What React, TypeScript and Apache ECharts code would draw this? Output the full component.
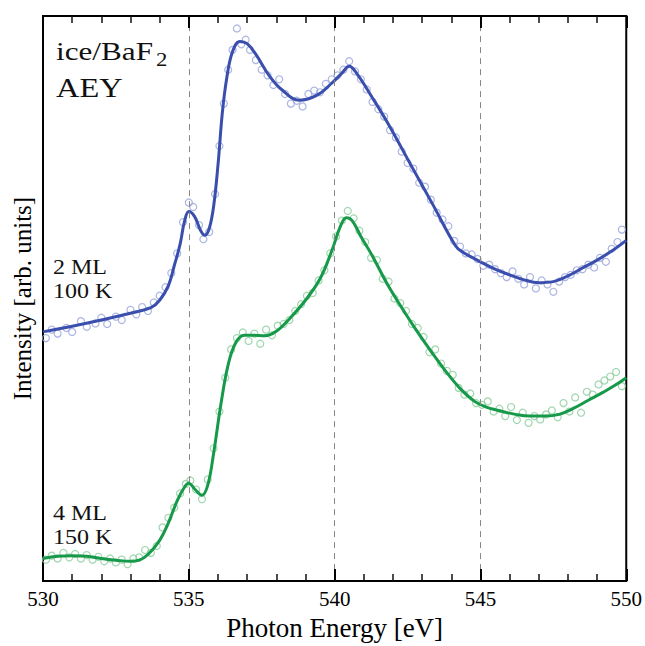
import React, { useEffect, useRef } from "react";
import * as echarts from "echarts";

// Photon energy [eV] / intensity [arb. units]
const fit2ML_E = [530.0, 531.0, 532.0, 533.0, 533.7, 534.0, 534.3, 534.5, 534.7, 534.85, 535.0, 535.2, 535.4, 535.55, 535.7, 535.85, 536.0, 536.15, 536.3, 536.5, 536.75, 537.0, 537.3, 537.75, 538.2, 538.8, 539.4, 539.9, 540.25, 540.5, 540.75, 541.3, 541.85, 542.65, 543.35, 544.15, 544.4, 545.0, 545.5, 546.0, 546.5, 547.0, 547.5, 548.0, 548.5, 549.0, 549.5, 550.0];
const fit2ML_I = [4.41, 4.51, 4.62, 4.74, 4.84, 4.97, 5.23, 5.58, 5.96, 6.36, 6.54, 6.45, 6.21, 6.12, 6.24, 6.63, 7.36, 8.29, 8.90, 9.37, 9.55, 9.51, 9.32, 8.95, 8.69, 8.51, 8.60, 8.81, 8.99, 9.11, 8.99, 8.55, 8.08, 7.33, 6.68, 5.93, 5.82, 5.65, 5.52, 5.42, 5.33, 5.28, 5.30, 5.40, 5.54, 5.68, 5.84, 6.03];

const fit4ML_E = [530.0, 530.5, 531.0, 531.5, 532.0, 532.5, 533.0, 533.3, 533.6, 534.0, 534.3, 534.6, 534.85, 535.0, 535.2, 535.45, 535.65, 535.85, 536.1, 536.35, 536.6, 536.9, 537.2, 537.6, 538.0, 538.5, 539.0, 539.5, 539.9, 540.2, 540.4, 540.6, 540.9, 541.3, 541.8, 542.3, 542.8, 543.3, 543.8, 544.3, 544.8, 545.2, 545.7, 546.2, 546.7, 547.2, 547.7, 548.2, 548.7, 549.2, 549.6, 550.0];
const fit4ML_I = [0.40, 0.44, 0.45, 0.44, 0.40, 0.37, 0.35, 0.37, 0.47, 0.72, 1.03, 1.42, 1.66, 1.73, 1.63, 1.52, 1.70, 2.26, 3.13, 3.83, 4.21, 4.35, 4.35, 4.34, 4.42, 4.67, 4.97, 5.35, 5.84, 6.28, 6.43, 6.38, 6.10, 5.75, 5.26, 4.84, 4.44, 4.07, 3.72, 3.41, 3.18, 3.08, 3.01, 2.95, 2.92, 2.92, 2.95, 3.06, 3.20, 3.34, 3.46, 3.60];

const data2ML_E = [530.1, 530.3, 530.5, 530.8, 531.0, 531.3, 531.5, 531.8, 532.0, 532.2, 532.5, 532.7, 533.0, 533.2, 533.4, 533.6, 533.8, 534.0, 534.2, 534.4, 534.6, 534.8, 535.0, 535.15, 535.35, 535.5, 535.7, 535.9, 536.05, 536.2, 536.35, 536.5, 536.65, 536.8, 536.95, 537.1, 537.3, 537.5, 537.7, 537.9, 538.1, 538.3, 538.5, 538.7, 538.9, 539.1, 539.3, 539.5, 539.7, 539.9, 540.1, 540.3, 540.5, 540.7, 540.9, 541.1, 541.3, 541.5, 541.7, 541.9, 542.1, 542.3, 542.5, 542.7, 542.9, 543.1, 543.3, 543.5, 543.7, 543.9, 544.1, 544.3, 544.5, 544.7, 544.9, 545.1, 545.3, 545.5, 545.7, 545.9, 546.1, 546.3, 546.5, 546.7, 546.9, 547.1, 547.3, 547.5, 547.7, 547.9, 548.1, 548.3, 548.5, 548.7, 548.9, 549.1, 549.3, 549.5, 549.7, 549.85];
const data2ML_I = [4.30, 4.45, 4.38, 4.48, 4.41, 4.60, 4.50, 4.56, 4.66, 4.55, 4.68, 4.62, 4.80, 4.72, 4.85, 4.78, 4.93, 5.05, 5.20, 5.45, 5.80, 6.35, 6.70, 6.62, 6.30, 6.05, 6.18, 6.85, 7.70, 8.45, 9.05, 9.40, 9.78, 9.50, 9.58, 9.40, 9.22, 9.05, 8.95, 8.78, 8.88, 8.62, 8.45, 8.50, 8.40, 8.62, 8.68, 8.65, 8.80, 8.88, 8.95, 9.05, 9.20, 9.02, 8.88, 8.70, 8.48, 8.35, 8.22, 7.98, 7.85, 7.60, 7.40, 7.30, 7.05, 6.98, 6.75, 6.52, 6.40, 6.28, 6.02, 5.92, 5.80, 5.78, 5.70, 5.58, 5.60, 5.52, 5.45, 5.38, 5.48, 5.35, 5.25, 5.38, 5.18, 5.32, 5.25, 5.12, 5.30, 5.38, 5.42, 5.50, 5.52, 5.60, 5.55, 5.72, 5.65, 5.88, 6.00, 6.22];

const data4ML_E = [530.1, 530.3, 530.5, 530.7, 530.9, 531.1, 531.3, 531.5, 531.7, 531.9, 532.1, 532.3, 532.5, 532.7, 532.9, 533.1, 533.3, 533.5, 533.7, 533.9, 534.1, 534.3, 534.5, 534.7, 534.9, 535.05, 535.25, 535.45, 535.65, 535.85, 536.05, 536.25, 536.45, 536.65, 536.85, 537.05, 537.25, 537.45, 537.65, 537.85, 538.05, 538.25, 538.45, 538.65, 538.85, 539.05, 539.25, 539.45, 539.65, 539.85, 540.05, 540.25, 540.45, 540.65, 540.85, 541.05, 541.25, 541.45, 541.65, 541.85, 542.05, 542.25, 542.45, 542.65, 542.85, 543.05, 543.25, 543.45, 543.65, 543.85, 544.05, 544.25, 544.45, 544.65, 544.85, 545.05, 545.25, 545.45, 545.65, 545.85, 546.05, 546.25, 546.45, 546.65, 546.85, 547.05, 547.25, 547.45, 547.65, 547.85, 548.05, 548.25, 548.45, 548.65, 548.85, 549.05, 549.25, 549.45, 549.65, 549.85];
const data4ML_I = [0.38, 0.45, 0.40, 0.50, 0.42, 0.48, 0.40, 0.46, 0.38, 0.43, 0.35, 0.40, 0.33, 0.38, 0.30, 0.40, 0.42, 0.55, 0.50, 0.62, 0.95, 1.12, 1.30, 1.55, 1.72, 1.78, 1.62, 1.45, 1.80, 2.35, 3.00, 3.60, 4.10, 4.30, 4.40, 4.25, 4.38, 4.20, 4.45, 4.35, 4.52, 4.55, 4.62, 4.78, 4.90, 5.05, 5.10, 5.32, 5.50, 5.80, 6.10, 6.38, 6.55, 6.42, 6.20, 6.00, 5.72, 5.68, 5.35, 5.30, 5.00, 4.92, 4.78, 4.55, 4.48, 4.32, 4.05, 4.10, 3.85, 3.72, 3.65, 3.42, 3.30, 3.32, 3.15, 3.12, 3.18, 3.00, 3.05, 2.92, 3.08, 2.85, 2.98, 2.80, 2.92, 2.86, 2.95, 3.02, 2.90, 3.15, 3.00, 3.25, 2.98, 3.35, 3.30, 3.48, 3.55, 3.62, 3.70, 3.45];

const xTicks = [530, 535, 540, 545, 550];
const guideLines = [535, 540, 545];

const zip = (a: number[], b: number[]) => a.map((v, i) => [v, b[i]]);

const SERIF = "'Liberation Serif', 'Times New Roman', serif";
const BLUE = "#3a4ead";
const GREEN = "#17994a";
const BLUE_PT = "#97a2db";
const GREEN_PT = "#88cc9a";

const label = (text: string, x: number, y: number, size: number) => ({
  type: "text" as const,
  x,
  y,
  scaleX: 1.2,
  style: {
    text,
    font: `${size}px ${SERIF}`,
    fill: "#111",
    verticalAlign: "middle" as const,
    align: "left" as const,
  },
});

export default function App() {
  const ref = useRef<HTMLDivElement>(null);
  useEffect(() => {
    if (!ref.current) return;
    const chart = echarts.init(ref.current, undefined, { renderer: "svg" });
    const xCommon = {
      type: "value" as const,
      min: xTicks[0],
      max: xTicks[xTicks.length - 1],
      interval: 5,
      z: 5,
      axisLine: { show: true, onZero: false, lineStyle: { color: "#000", width: 2 } },
      axisTick: { show: true, inside: true, length: 12, lineStyle: { color: "#000", width: 2 } },
      minorTick: { show: true, splitNumber: 5, length: 7, lineStyle: { color: "#111", width: 1.5 } },
      splitLine: { show: false },
    };
    chart.setOption({
      animation: false,
      grid: { left: 43, right: 16, top: 16, bottom: 57, show: true, borderColor: "#000", borderWidth: 2 },
      xAxis: [
        {
          ...xCommon,
          position: "bottom",
          name: "Photon Energy [eV]",
          nameLocation: "middle",
          nameGap: 31,
          nameTextStyle: { fontFamily: SERIF, fontSize: 27, color: "#000" },
          axisLabel: { show: true, fontFamily: SERIF, fontSize: 21, color: "#000", margin: 7 },
        },
        {
          ...xCommon,
          position: "top",
          axisLabel: { show: false },
        },
      ],
      yAxis: {
        type: "value",
        min: 0,
        max: 10,
        name: "Intensity [arb. units]",
        nameLocation: "middle",
        nameGap: 8,
        nameTextStyle: { fontFamily: SERIF, fontSize: 25, color: "#000" },
        axisLine: { show: true, lineStyle: { color: "#000", width: 2 } },
        axisTick: { show: false },
        axisLabel: { show: false },
        splitLine: { show: false },
      },
      series: [
        {
          type: "scatter",
          name: "2 ML data",
          data: zip(data2ML_E, data2ML_I),
          symbol: "circle",
          symbolSize: 7,
          itemStyle: { color: "rgba(0,0,0,0)", borderColor: BLUE_PT, borderWidth: 1.2 },
          z: 1,
          markLine: {
            silent: true,
            symbol: "none",
            label: { show: false },
            lineStyle: { type: [6, 5], color: "#888", width: 1 },
            data: guideLines.map((v) => ({ xAxis: v })),
          },
        },
        {
          type: "scatter",
          name: "4 ML data",
          data: zip(data4ML_E, data4ML_I),
          symbol: "circle",
          symbolSize: 7,
          itemStyle: { color: "rgba(0,0,0,0)", borderColor: GREEN_PT, borderWidth: 1.2 },
          z: 1,
        },
        {
          type: "line",
          name: "2 ML fit",
          data: zip(fit2ML_E, fit2ML_I),
          smooth: 0.4,
          showSymbol: false,
          lineStyle: { color: BLUE, width: 3 },
          z: 3,
        },
        {
          type: "line",
          name: "4 ML fit",
          data: zip(fit4ML_E, fit4ML_I),
          smooth: 0.4,
          showSymbol: false,
          lineStyle: { color: GREEN, width: 3 },
          z: 3,
        },
      ],
      graphic: [
        label("ice/BaF", 56, 51, 26),
        label("2", 156, 60, 19),
        label("AEY", 56, 87, 27),
        label("2 ML", 53, 267, 20),
        label("100 K", 53, 291, 20),
        label("4 ML", 53, 513, 20),
        label("150 K", 53, 537, 20),
      ],
    });
    return () => chart.dispose();
  }, []);
  return (
    <div
      ref={ref}
      style={{ position: "fixed", left: 0, top: 0, width: 645, height: 646, background: "#fff" }}
    />
  );
}
